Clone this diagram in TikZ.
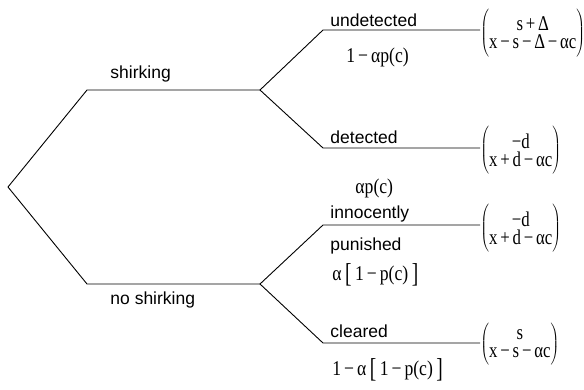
\documentclass[tikz,border=0pt]{standalone}
\usepackage{fontspec}
\setmainfont{Liberation Sans}
\newfontfamily\mf{Liberation Serif}
\newcommand\mth[1]{\scalebox{0.84}[1]{\fontsize{21}{22}\selectfont\mf #1}}
\newcommand\mn{\,−\,}
\newcommand\bk{\kern0.2em}
\newcommand\bkl{\raisebox{-0.12em}{\scalebox{1.1}[1.3]{[}}}
\newcommand\bkr{\raisebox{-0.12em}{\scalebox{1.1}[1.3]{]}}}
\newcommand\pv[2]{$\delimitershortfall=-11pt\left(\vcenter{\hbox{\scalebox{0.8}[1]{\fontsize{21}{18}\selectfont\mf\vbox{\baselineskip=18pt\lineskiplimit=-10pt\halign{\hfil##\hfil\cr #1\cr #2\cr}}}}}\right)$}
\begin{document}
\begin{tikzpicture}[x=1pt,y=-1pt,line width=0.9pt,
  lbl/.style={font=\fontsize{17.5}{20}\selectfont,inner sep=0pt,anchor=base west},
  prob/.style={inner sep=0pt,anchor=base west},
  pay/.style={inner sep=0pt,anchor=west}]
\useasboundingbox (0,0) rectangle (584,389);
% tree points
\coordinate (r) at (8,187);
\coordinate (s0) at (87,90);
\coordinate (s1) at (260,90);
\coordinate (n0) at (87,284);
\coordinate (n1) at (260,284);
\coordinate (u0) at (323,30);
\coordinate (u1) at (480,30);
\coordinate (d0) at (323,148);
\coordinate (d1) at (480,148);
\coordinate (i0) at (323,225);
\coordinate (i1) at (480,225);
\coordinate (c0) at (323,343);
\coordinate (c1) at (480,343);
\draw (s1) -- (s0) -- (r) -- (n0) -- (n1);
\draw (u1) -- (u0) -- (s1) -- (d0) -- (d1);
\draw (i1) -- (i0) -- (n1) -- (c0) -- (c1);
% labels
\node[lbl] (ls) at (110,78) {shirking};
\node[lbl] (ln) at (110,304) {no shirking};
\node[lbl] (lu) at (330,26) {undetected};
\node[prob] (pu) at (346,62) {\mth{1\mn αp(c)}};
\node[lbl] (ld) at (330,143) {detected};
\node[prob] (pd) at (355,193) {\mth{αp(c)}};
\node[lbl] (li) at (330,218) {innocently};
\node[lbl] (lp) at (330,250) {punished};
\node[prob] (pi) at (332,280) {\mth{α\bk\bkl\bk 1\mn p(c)\bk\bkr}};
\node[lbl] (lc) at (330,337) {cleared};
\node[prob] (pc) at (332,375) {\mth{1\mn α\bk\bkl\bk 1\mn p(c)\bk\bkr}};
% payoffs
\node[pay] (vu) at ([yshift=-3pt]u1) {\pv{s\,+\,Δ}{x\mn s\mn Δ\mn αc}};
\node[pay] (vd) at ([yshift=-2pt]d1) {\pv{−d}{x\,+\,d\mn αc}};
\node[pay] (vi) at ([yshift=-3pt]i1) {\pv{−d}{x\,+\,d\mn αc}};
\node[pay] (vc) at ([yshift=-1pt]c1) {\pv{s}{x\mn s\mn αc}};
\end{tikzpicture}
\end{document}
